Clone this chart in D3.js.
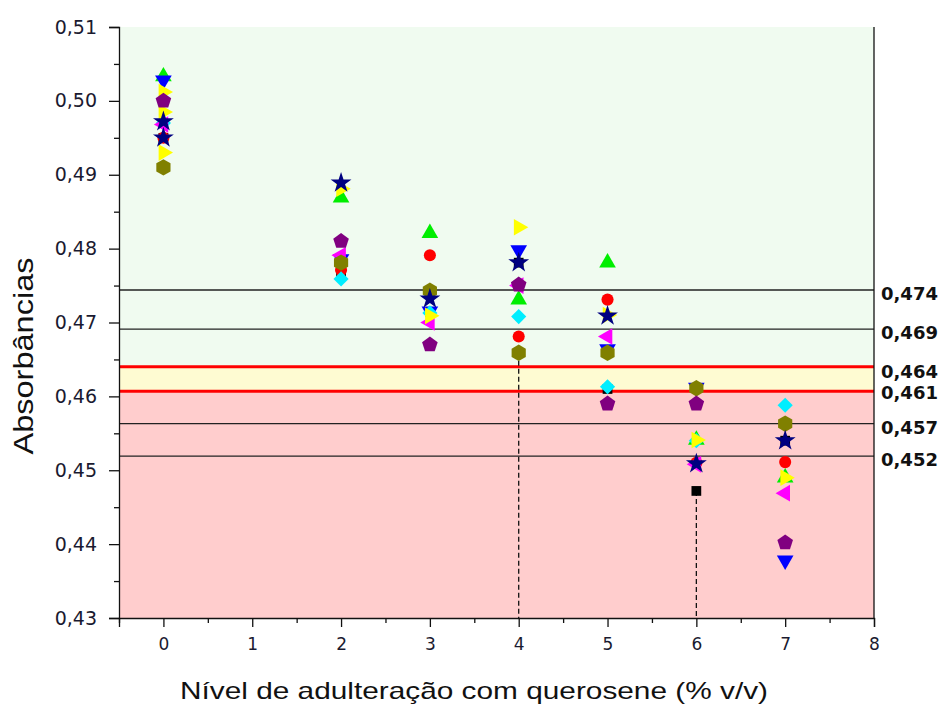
<!DOCTYPE html>
<html><head><meta charset="utf-8">
<script src="https://cdn.jsdelivr.net/npm/d3@7"></script>
<style>body{margin:0;background:#fff}svg{display:block}</style>
</head><body>
<script>
const categories = [0, 2, 3, 4, 5, 6, 7];
const xTicks = [0, 1, 2, 3, 4, 5, 6, 7, 8];
const yTicks = [0.43, 0.44, 0.45, 0.46, 0.47, 0.48, 0.49, 0.50, 0.51];
const blackSquare  = [0.4950, 0.4767, 0.4714, 0.4781, 0.4610, 0.4472, 0.4540];
const redCircle    = [0.4950, 0.4771, 0.4791, 0.4681, 0.4731, 0.4510, 0.4511];
const greenUp      = [0.5033, 0.4869, 0.4821, 0.4731, 0.4781, 0.4541, 0.4490];
const blueDown     = [0.5028, 0.4786, 0.4715, 0.4798, 0.4664, 0.4612, 0.4378];
const cyanDiamond  = [0.4970, 0.4759, 0.4713, 0.4708, 0.4613, 0.4540, 0.4588];
const magentaLeft  = [0.4968, 0.4791, 0.4700, 0.4750, 0.4681, 0.4508, 0.4469];
const yellowRight  = [0.4985, 0.4881, 0.4709, 0.4829, 0.4710, 0.4541, 0.4490];
const yellowRight2 = [0.5012, null, null, null, null, null, null];
const yellowRight3 = [0.4930, null, null, null, null, null, null];
const oliveHex     = [0.4910, 0.4781, 0.4743, 0.4659, 0.4659, 0.4611, 0.4563];
const purplePent   = [0.5000, 0.4810, 0.4670, 0.4751, 0.4590, 0.4590, 0.4402];
const navyStar     = [0.4972, 0.4889, 0.4732, 0.4781, 0.4709, 0.4509, 0.4540];
const navyStar2    = [0.4950, null, null, null, null, null, null];
const refLines = [0.4744, 0.4691, 0.4563, 0.4519];
const refLabels = ["0,474", "0,469", "0,457", "0,452"];
const limitLines = [0.4640, 0.4607];
const limitLabels = ["0,464", "0,461"];
const dashedAt = [[4, 0.4659], [6, 0.4472]];

const W = 950, H = 706;
const svg = d3.select("body").append("svg").attr("width", W).attr("height", H);
const x = d3.scaleLinear().domain([-0.5, 8]).range([119, 874]);
const y = d3.scaleLinear().domain([0.43, 0.51]).range([618, 27]);

// background bands
svg.append("rect").attr("x", x(-0.5)).attr("width", x(8) - x(-0.5))
  .attr("y", y(0.51)).attr("height", y(limitLines[0]) - y(0.51)).attr("fill", "#f0fbf0");
svg.append("rect").attr("x", x(-0.5)).attr("width", x(8) - x(-0.5))
  .attr("y", y(limitLines[0])).attr("height", y(limitLines[1]) - y(limitLines[0])).attr("fill", "#fefbd2");
svg.append("rect").attr("x", x(-0.5)).attr("width", x(8) - x(-0.5))
  .attr("y", y(limitLines[1])).attr("height", y(0.43) - y(limitLines[1])).attr("fill", "#ffcdcd");

// reference lines
refLines.forEach((v, i) => {
  svg.append("line").attr("x1", x(-0.5)).attr("x2", x(8)).attr("y1", y(v)).attr("y2", y(v))
    .attr("stroke", "#222").attr("stroke-width", 1.3);
  svg.append("text").attr("x", 881).attr("y", y(v) + 10).text(refLabels[i])
    .attr("font-family", "DejaVu Sans").attr("font-weight", "bold").attr("font-size", 18).attr("fill", "#111");
});
limitLines.forEach((v, i) => {
  svg.append("line").attr("x1", x(-0.5)).attr("x2", x(8)).attr("y1", y(v)).attr("y2", y(v))
    .attr("stroke", "#f00").attr("stroke-width", 3);
  svg.append("text").attr("x", 881).attr("y", y(v) + (i === 0 ? 11 : 8)).text(limitLabels[i])
    .attr("font-family", "DejaVu Sans").attr("font-weight", "bold").attr("font-size", 18).attr("fill", "#111");
});

// dashed verticals
dashedAt.forEach(d => {
  svg.append("line").attr("x1", x(d[0])).attr("x2", x(d[0])).attr("y1", y(d[1])).attr("y2", y(0.43))
    .attr("stroke", "#111").attr("stroke-width", 1.3).attr("stroke-dasharray", "5,3");
});

// axes
const font = "Liberation Sans";
const xAxis = d3.axisBottom(x).tickValues(xTicks).tickSize(9).tickFormat(d3.format("d"));
const gx = svg.append("g").attr("transform", `translate(0,${y(0.43)})`).call(xAxis);
const xMinor = d3.axisBottom(x).tickValues(d3.range(-0.5, 8, 1)).tickSize(5).tickFormat("");
svg.append("g").attr("transform", `translate(0,${y(0.43)})`).call(xMinor).select(".domain").remove();
gx.selectAll("text").attr("font-family", "DejaVu Sans").attr("font-size", 17).attr("fill", "#1a1a30").attr("y", 20).attr("dy", "0.71em");
const fmt = v => d3.format(".2f")(v).replace(".", ",");
const yAxis = d3.axisLeft(y).tickValues(yTicks).tickSize(10).tickFormat(fmt);
const gy = svg.append("g").attr("transform", `translate(${x(-0.5)},0)`).call(yAxis);
const yMinor = d3.axisLeft(y).tickValues(d3.range(0.435, 0.51, 0.01)).tickSize(5).tickFormat("");
svg.append("g").attr("transform", `translate(${x(-0.5)},0)`).call(yMinor).select(".domain").remove();
gy.selectAll("text").attr("font-family", "DejaVu Sans").attr("font-size", 19).attr("fill", "#1a1a30").attr("x", -22);
svg.selectAll(".domain").attr("stroke", "#111").attr("stroke-width", 1.3);
svg.selectAll(".tick line").attr("stroke", "#111").attr("stroke-width", 1.3);
svg.append("line").attr("x1", x(8)).attr("x2", x(8)).attr("y1", y(0.51)).attr("y2", y(0.43))
  .attr("stroke", "#111").attr("stroke-width", 1.3);

// symbols
function polygon(n, r, rot) {
  const pts = d3.range(n).map(i => {
    const a = rot + i * 2 * Math.PI / n;
    return [r * Math.cos(a), r * Math.sin(a)];
  });
  return "M" + pts.map(p => p.join(",")).join("L") + "Z";
}
const tri = d3.symbol(d3.symbolTriangle, 120)();
const shapes = {
  square: { d: d3.symbol(d3.symbolSquare, 95)(), rot: 0 },
  circle: { d: d3.symbol(d3.symbolCircle, 115)(), rot: 0 },
  up: { d: tri, rot: 0 },
  down: { d: tri, rot: 180 },
  diamond: { d: d3.symbol(d3.symbolSquare, 115)(), rot: 45 },
  left: { d: tri, rot: -90 },
  right: { d: tri, rot: 90 },
  hex: { d: polygon(6, 8.2, Math.PI / 2), rot: 0 },
  pent: { d: polygon(5, 8.2, -Math.PI / 2), rot: 0 },
  star: { d: d3.symbol(d3.symbolStar, 135)(), rot: 0 }
};
const series = [
  { v: blackSquare, s: "square", c: "#000000" },
  { v: redCircle, s: "circle", c: "#ff0000" },
  { v: greenUp, s: "up", c: "#00ee00" },
  { v: blueDown, s: "down", c: "#0000ff" },
  { v: cyanDiamond, s: "diamond", c: "#00eeff" },
  { v: magentaLeft, s: "left", c: "#ff00ff" },
  { v: yellowRight, s: "right", c: "#ffff00" },
  { v: yellowRight2, s: "right", c: "#ffff00" },
  { v: yellowRight3, s: "right", c: "#ffff00" },
  { v: oliveHex, s: "hex", c: "#808000" },
  { v: purplePent, s: "pent", c: "#800080" },
  { v: navyStar, s: "star", c: "#000080" },
  { v: navyStar2, s: "star", c: "#000080" }
];
series.forEach(se => {
  const pts = categories.map((c, i) => [c, se.v[i]]).filter(p => p[1] != null);
  svg.append("g").selectAll("path").data(pts).join("path")
    .attr("d", shapes[se.s].d)
    .attr("transform", p => `translate(${x(p[0])},${y(p[1])}) rotate(${shapes[se.s].rot})`)
    .attr("fill", se.c);
});

// titles
svg.append("text").attr("x", 474).attr("y", 699).attr("text-anchor", "middle")
  .attr("font-family", font).attr("font-size", 24).attr("fill", "#111")
  .attr("textLength", 588).attr("lengthAdjust", "spacingAndGlyphs")
  .text("Nível de adulteração com querosene (% v/v)");
svg.append("text").attr("transform", "translate(33,356) rotate(-90)").attr("text-anchor", "middle")
  .attr("font-family", font).attr("font-size", 28).attr("fill", "#111")
  .attr("textLength", 197).attr("lengthAdjust", "spacingAndGlyphs")
  .text("Absorbâncias");
</script>
</body></html>
